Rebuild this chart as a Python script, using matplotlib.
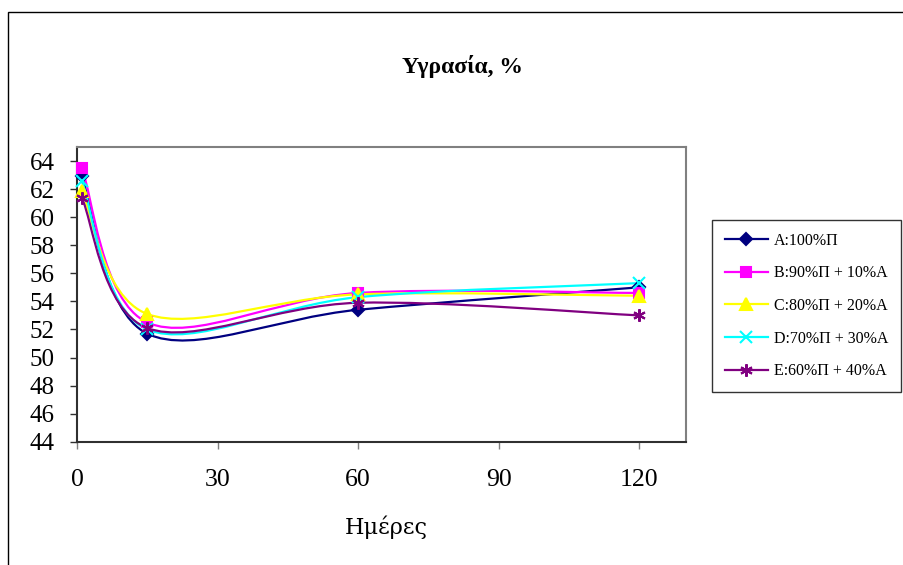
import matplotlib.pyplot as plt
from matplotlib.path import Path
from matplotlib.patches import PathPatch, Rectangle
from matplotlib.lines import Line2D

plt.rcParams['font.family'] = ['Liberation Serif', 'DejaVu Serif']

# days of measurement
days = [1, 15, 60, 120]

# moisture %, one list per mix
moist_a = [62.9, 51.7, 53.4, 55.0]
moist_b = [63.5, 52.5, 54.6, 54.6]
moist_c = [61.9, 53.1, 54.5, 54.4]
moist_d = [62.6, 52.0, 54.3, 55.3]
moist_e = [61.4, 52.1, 53.9, 53.0]

labels = ['A:100%Π', 'B:90%Π + 10%A', 'C:80%Π + 20%A',
          'D:70%Π + 30%A', 'E:60%Π + 40%A']
colors = ['#000080', '#ff00ff', '#ffff00', '#00ffff', '#800080']
markers = ['D', 's', '^', 'x', (6, 2, 0)]
msizes = [6, 7, 8, 8, 9]


def smooth_path(x, y):
    # Catmull-Rom style bezier through the points (like a spreadsheet "smoothed line")
    pts = list(zip(x, y))
    n = len(pts)
    verts = [pts[0]]
    codes = [Path.MOVETO]
    for i in range(n - 1):
        p0 = pts[max(i - 1, 0)]
        p1 = pts[i]
        p2 = pts[i + 1]
        p3 = pts[min(i + 2, n - 1)]
        c1 = (p1[0] + (p2[0] - p0[0]) / 6, p1[1] + (p2[1] - p0[1]) / 6)
        c2 = (p2[0] - (p3[0] - p1[0]) / 6, p2[1] - (p3[1] - p1[1]) / 6)
        verts += [c1, c2, p2]
        codes += [Path.CURVE4] * 3
    return Path(verts, codes)


fig = plt.figure(figsize=(9.04, 5.65), dpi=100)
ax = fig.add_axes([77 / 904, 1 - 441.7 / 565, 609 / 904, 294.7 / 565])

series = [moist_a, moist_b, moist_c, moist_d, moist_e]
handles = []
for vals, lab, col, mk, ms in zip(series, labels, colors, markers, msizes):
    ax.add_patch(PathPatch(smooth_path(days, vals), fill=False,
                           edgecolor=col, lw=1.6, zorder=2))
    ax.plot(days, vals, ls='none', marker=mk, ms=ms, color=col,
            mew=1.5, zorder=3, clip_on=False)
    handles.append(Line2D([], [], color=col, lw=1.6, marker=mk, ms=ms,
                          mew=1.5, label=lab))

ax.set_xlim(0, 130)
ax.set_ylim(44, 65)
ax.set_xticks([0, 30, 60, 90, 120])
ax.set_yticks(range(44, 65, 2))

for s in ['top', 'right']:
    ax.spines[s].set_color('#808080')
    ax.spines[s].set_linewidth(1.5)
for s in ['left', 'bottom']:
    ax.spines[s].set_color('#303030')
    ax.spines[s].set_linewidth(1.5)

ax.tick_params(axis='y', direction='out', length=5, width=1, color='#303030',
               labelsize=18, pad=11)
ax.tick_params(axis='x', direction='out', length=5, width=1, color='#808080',
               labelsize=18.5, pad=15)

fig.text(463 / 904, 1 - 66 / 565, 'Υγρασία, %', ha='center', va='center',
         fontsize=17, fontweight='bold')
fig.text(386 / 904, 1 - 527 / 565, 'Ημέρες', ha='center', va='center',
         fontsize=16, family='DejaVu Serif')

leg = fig.legend(handles=handles, loc='upper left',
                 bbox_to_anchor=(712 / 904, 1 - 220 / 565),
                 fontsize=11.5, frameon=True, fancybox=False, edgecolor='black',
                 handlelength=2.7, handletextpad=0.4, labelspacing=1.04,
                 borderpad=0.8, borderaxespad=0)
leg.get_frame().set_linewidth(1.0)

# outer chart border
fig.patches.append(Rectangle((8 / 904, -0.1), 1.2, 1.1 - 12 / 565,
                             transform=fig.transFigure, fill=False,
                             edgecolor='black', lw=1.0))

fig.savefig('out.png', dpi=100)
